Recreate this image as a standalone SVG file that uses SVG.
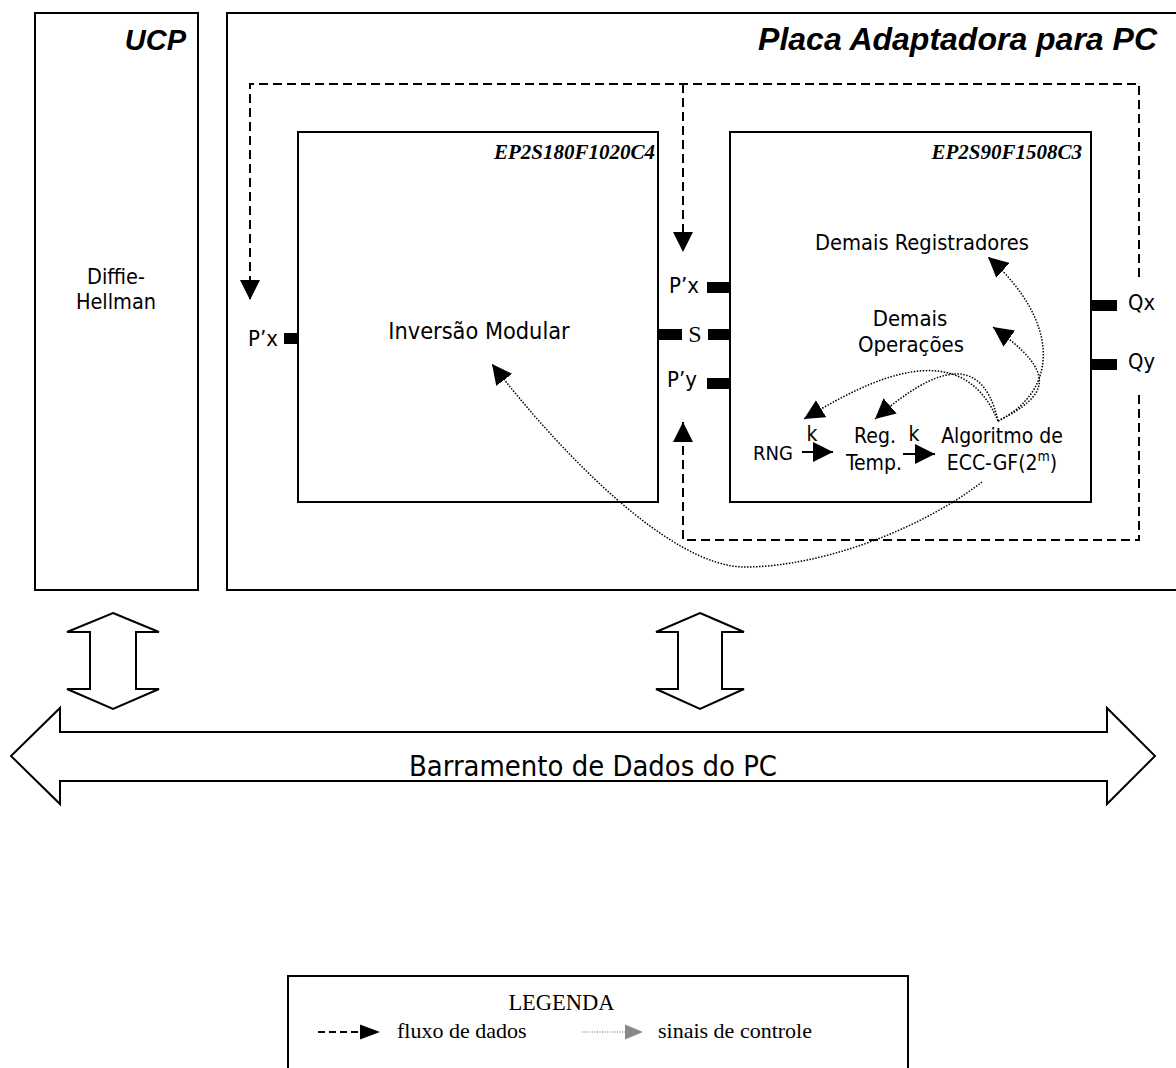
<svg xmlns="http://www.w3.org/2000/svg" width="1176" height="1068" viewBox="0 0 1176 1068">
<style>
.box{fill:none;stroke:#000;stroke-width:2}
.t{font-family:"DejaVu Sans Condensed","DejaVu Sans",sans-serif;font-stretch:condensed;fill:#000}
.sf{font-family:"Liberation Serif","Times New Roman",serif;fill:#000}
.ttl{font-family:"Liberation Sans",Arial,sans-serif;font-weight:bold;font-style:italic;fill:#000}
.chip{font-family:"Liberation Serif","Times New Roman",serif;font-weight:bold;font-style:italic;font-size:21px;fill:#000}
.dash{fill:none;stroke:#000;stroke-width:2;stroke-dasharray:9 5}
.dot{fill:none;stroke:#000;stroke-width:1.5;stroke-dasharray:1.5 1.5}
.port{fill:#000}
.bus{fill:#fff;stroke:#000;stroke-width:2;stroke-linejoin:miter}
</style>
<defs>
<marker id="ah" markerUnits="userSpaceOnUse" viewBox="0 0 20 20" refX="20" refY="10" markerWidth="20" markerHeight="20" orient="auto"><path d="M0,0L20,10L0,20z" fill="#000"/></marker>
</defs>
<rect width="1176" height="1068" fill="#fff"/>

<g id="ucp">
<rect class="box" x="35" y="13" width="163" height="577"/>
<text class="ttl" x="186" y="50" font-size="29" text-anchor="end">UCP</text>
<text class="t" x="116" y="284" font-size="21.5" text-anchor="middle">Diffie-</text>
<text class="t" x="116" y="309" font-size="21.5" text-anchor="middle">Hellman</text>
</g>

<g id="placa">
<rect class="box" x="227" y="13" width="960" height="577"/>
<text class="ttl" x="1157" y="50" font-size="32" text-anchor="end">Placa Adaptadora para PC</text>
</g>

<g id="chip1">
<rect class="box" x="298" y="132" width="360" height="370"/>
<text class="chip" x="655" y="159" text-anchor="end">EP2S180F1020C4</text>
<text class="t" x="479" y="339" font-size="23.3" text-anchor="middle">Inversão Modular</text>
<rect class="port" x="284" y="333" width="14" height="11"/>
<text class="t" x="278" y="346" font-size="22" text-anchor="end">P’x</text>
<rect class="port" x="659" y="329" width="23" height="11"/>
</g>

<g id="chip2">
<rect class="box" x="730" y="132" width="361" height="370"/>
<text class="chip" x="1082" y="159" text-anchor="end">EP2S90F1508C3</text>
<text class="t" x="922" y="250" font-size="21.7" text-anchor="middle">Demais Registradores</text>
<text class="t" x="910" y="326" font-size="22" text-anchor="middle">Demais</text>
<text class="t" x="911" y="352" font-size="22" text-anchor="middle">Operações</text>
<rect class="port" x="707" y="282" width="23" height="11"/>
<text class="t" x="699" y="293" font-size="22" text-anchor="end">P’x</text>
<rect class="port" x="708" y="329" width="22" height="11"/>
<text class="sf" x="695" y="342" font-size="24" text-anchor="middle">S</text>
<rect class="port" x="707" y="378" width="23" height="11"/>
<text class="t" x="697" y="387" font-size="22" text-anchor="end">P’y</text>
<rect class="port" x="1091" y="300" width="26" height="11"/>
<text class="t" x="1128" y="310" font-size="21.8">Qx</text>
<rect class="port" x="1091" y="359" width="26" height="11"/>
<text class="t" x="1128" y="369" font-size="21.8">Qy</text>
</g>

<g id="rng">
<text class="t" x="753" y="460" font-size="20">RNG</text>
<text class="t" x="812" y="441" font-size="21" text-anchor="middle">k</text>
</g>
<g id="regtemp">
<text class="t" x="875" y="443" font-size="21" text-anchor="middle">Reg.</text>
<text class="t" x="874" y="470" font-size="21" text-anchor="middle">Temp.</text>
<text class="t" x="914" y="441" font-size="21" text-anchor="middle">k</text>
</g>
<g id="ecc">
<text class="t" x="1002" y="443" font-size="21" text-anchor="middle">Algoritmo de</text>
<text class="t" x="1002" y="470" font-size="21" text-anchor="middle">ECC-GF(2<tspan dy="-9" font-size="14">m</tspan><tspan dy="9">)</tspan></text>
</g>

<g id="connectors">
<path class="dash" d="M1139,277V84H250V300" marker-end="url(#ah)"/>
<path class="dash" d="M683,84V252" marker-end="url(#ah)"/>
<path class="dash" d="M1139,395V540H683V422" marker-end="url(#ah)"/>
<path d="M802,452H833" fill="none" stroke="#000" stroke-width="2" marker-end="url(#ah)"/>
<path d="M903,454H935" fill="none" stroke="#000" stroke-width="2" marker-end="url(#ah)"/>
<path class="dot" d="M998,421C960,330 864,383 804,419" marker-end="url(#ah)"/>
<path class="dot" d="M998,421C980,340 920,380 875,419" marker-end="url(#ah)"/>
<path class="dot" d="M998,421C1050,395 1058,373 993,327" marker-end="url(#ah)"/>
<path class="dot" d="M998,421C1060,390 1060,321 988,257" marker-end="url(#ah)"/>
<path class="dot" d="M982,482C920,530 820,567 745,567C670,567 559,451 492,364" marker-end="url(#ah)"/>
</g>

<g id="bus">
<polygon class="bus" points="113,613 159,632 136,632 136,689 159,689 113,709 67,689 90,689 90,632 67,632"/>
<polygon class="bus" points="700,613 744,632 722,632 722,689 744,689 700,709 656,689 678,689 678,632 656,632"/>
<polygon class="bus" points="11,756 60,708 60,732 1107,732 1107,708 1155,756 1107,804 1107,781 60,781 60,804"/>
<text class="t" x="593" y="776" font-size="28.9" text-anchor="middle">Barramento de Dados do PC</text>
</g>

<g id="legenda">
<rect class="box" x="288" y="976" width="620" height="100"/>
<text class="sf" x="561.5" y="1010" font-size="22.5" text-anchor="middle">LEGENDA</text>
<path d="M318,1032H360" fill="none" stroke="#000" stroke-width="2" stroke-dasharray="7 4"/>
<polygon points="360,1024.5 380,1032 360,1039.5" fill="#000"/>
<text class="sf" x="397" y="1038" font-size="22">fluxo de dados</text>
<path d="M582,1032H625" fill="none" stroke="#999" stroke-width="1.5" stroke-dasharray="1 1.5"/>
<polygon points="625,1024.5 643,1032 625,1039.5" fill="#888"/>
<text class="sf" x="658" y="1038" font-size="22">sinais de controle</text>
</g>
</svg>
